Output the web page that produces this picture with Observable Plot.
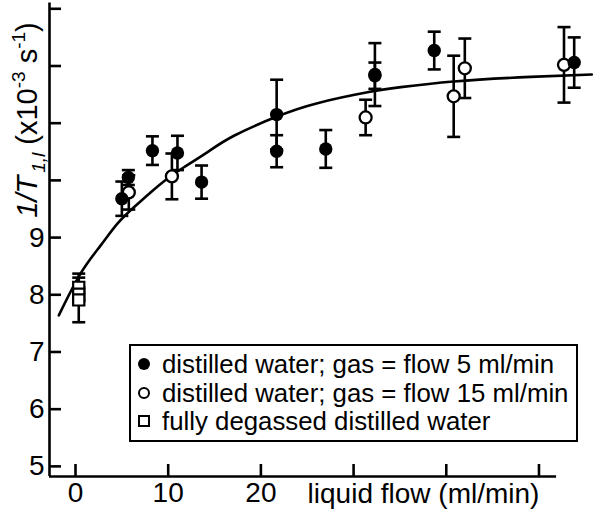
<!DOCTYPE html>
<html>
<head>
<meta charset="utf-8">
<script src="https://cdn.jsdelivr.net/npm/d3@7"></script>
<script src="https://cdn.jsdelivr.net/npm/@observablehq/plot@0.6"></script>
<style>
  html, body { margin: 0; padding: 0; background: #fff; }
  #chart { position: relative; width: 600px; height: 517px; }
</style>
</head>
<body>
<div id="chart"></div>
<script>
// ---- data ----
// filled circles: distilled water; gas flow 5 ml/min
const flow5 = [5.0, 5.7, 8.3, 11.0, 13.6, 21.7, 21.7, 27.0, 32.3, 32.3, 38.7, 53.8];
const rate5 = [9.68, 10.05, 10.52, 10.48, 9.97, 11.15, 10.51, 10.55, 11.85, 11.83, 12.27, 12.06];
const err5  = [0.30, 0.13, 0.25, 0.30, 0.29, 0.61, 0.28, 0.33, 0.55, 0.23, 0.33, 0.44];
// open circles: distilled water; gas flow 15 ml/min
const flow15 = [5.75, 10.4, 31.3, 40.8, 42.0, 52.7];
const rate15 = [9.79, 10.07, 11.10, 11.47, 11.96, 12.02];
const err15  = [0.30, 0.40, 0.31, 0.71, 0.52, 0.66];
// open squares: fully degassed distilled water
const flowDeg = [0.35, 0.35, 0.35];
const rateDeg = [8.13, 8.01, 7.91];
const errDeg  = [0.24, 0.12, 0.39];
// fitted curve
const fitFlow = [-1.8, 0.54, 2.7, 4.5, 6.3, 8.1, 9.9, 11.7, 14.2, 17.1, 21.8, 26.1, 31.5, 35.1, 40.8, 49.1, 55.7];
const fitRate = [7.64, 8.37, 8.86, 9.24, 9.53, 9.79, 10.03, 10.23, 10.49, 10.78, 11.12, 11.35, 11.54, 11.63, 11.73, 11.81, 11.85];
// axes
const xTicks = [0, 10, 20, 30, 40, 50];
const xTickLabels = ["0", "10", "20", "", "", ""];
const yTicks = [5, 6, 7, 8, 9, 10, 11, 12, 13];
const yTickLabels = ["5", "6", "7", "8", "9", "", "", "", ""];
const xDomain = [-2.805, 56.53];
const yDomain = [4.823, 13.145];
const xAxisEnd = 51.9;
const yAxisTop = 13.1;
const xTitle = "liquid flow (ml/min)";
const legendLabels = [
  "distilled water; gas = flow 5 ml/min",
  "distilled water; gas = flow 15 ml/min",
  "fully degassed distilled water"
];

const mk = (xs, ys, es) => xs.map((x, i) => ({x, y: ys[i], e: es[i]}));
const s5 = mk(flow5, rate5, err5);
const s15 = mk(flow15, rate15, err15);
const sDeg = mk(flowDeg, rateDeg, errDeg);
const fit = fitFlow.map((x, i) => ({x, y: fitRate[i]}));
const allPts = [...sDeg, ...s5, ...s15];

const cap = { draw(ctx, size) { const r = Math.sqrt(size / Math.PI); ctx.moveTo(-r, 0); ctx.lineTo(r, 0); } };

const lw = 2.6;
const plot = Plot.plot({
  width: 600,
  height: 517,
  marginLeft: 49,
  marginRight: 1,
  marginTop: 0,
  marginBottom: 41,
  style: { fontFamily: "'Liberation Sans', Arial, sans-serif", fontSize: "28px", color: "#000", background: "#fff", overflow: "visible" },
  x: { domain: xDomain, axis: null },
  y: { domain: yDomain, axis: null },
  marks: [
    Plot.ruleX([xDomain[0]], { y1: yDomain[0], y2: yAxisTop, stroke: "#000", strokeWidth: lw }),
    Plot.ruleY([yDomain[0]], { x1: xDomain[0], x2: xAxisEnd, stroke: "#000", strokeWidth: lw }),
    Plot.axisY({ ticks: yTicks, tickSize: -12, tickPadding: 17, strokeWidth: lw, label: null,
      tickFormat: d => yTickLabels[yTicks.indexOf(d)] }),
    Plot.axisX({ ticks: xTicks, tickSize: -12, tickPadding: 18, strokeWidth: lw, label: null,
      tickFormat: d => xTickLabels[xTicks.indexOf(d)] }),
    Plot.text([xTitle], { frameAnchor: "bottom", dx: 99, dy: 7, lineAnchor: "top", fontSize: 28 }),
    Plot.line(fit, { x: "x", y: "y", curve: "natural", stroke: "#000", strokeWidth: lw }),
    Plot.ruleX(allPts, { x: "x", y1: d => d.y - d.e, y2: d => d.y + d.e, stroke: "#000", strokeWidth: lw }),
    Plot.dot(allPts, { x: "x", y: d => d.y + d.e, symbol: cap, r: 6.5, stroke: "#000", strokeWidth: lw }),
    Plot.dot(allPts, { x: "x", y: d => d.y - d.e, symbol: cap, r: 6.5, stroke: "#000", strokeWidth: lw }),
    Plot.dot(sDeg, { x: "x", y: "y", symbol: "square", r: 6.3, fill: "#fff", stroke: "#000", strokeWidth: 2.2 }),
    Plot.dot(s15, { x: "x", y: "y", r: 6, fill: "#fff", stroke: "#000", strokeWidth: 2.3 }),
    Plot.dot(s5, { x: "x", y: "y", r: 6.7, fill: "#000", stroke: "none" })
  ]
});
document.getElementById("chart").appendChild(plot);

// y-axis title with italics, subscript and superscripts
const svg = d3.select(plot);
const lab = svg.append("text")
  .attr("transform", "translate(37,120) rotate(-90)")
  .attr("text-anchor", "middle")
  .attr("font-family", "'Liberation Sans', Arial, sans-serif")
  .attr("font-size", 29)
  .attr("fill", "#000");
lab.append("tspan").attr("font-style", "italic").text("1/T");
lab.append("tspan").attr("font-style", "italic").attr("font-size", 19).attr("dx", 3).attr("dy", 8).text("1,l");
lab.append("tspan").attr("dy", -8).text(" (x10");
lab.append("tspan").attr("font-size", 19).attr("dy", -12).text("-3");
lab.append("tspan").attr("dy", 12).text(" s");
lab.append("tspan").attr("font-size", 19).attr("dy", -12).text("-1");
lab.append("tspan").attr("dy", 12).text(")");

// legend box inside the plot area
const lg = svg.append("g")
  .attr("font-family", "'Liberation Sans', Arial, sans-serif")
  .attr("font-size", 25.8)
  .attr("text-anchor", "start");
lg.append("rect").attr("x", 130).attr("y", 345).attr("width", 447).attr("height", 96)
  .attr("fill", "#fff").attr("stroke", "#000").attr("stroke-width", 2);
const rowY = [364, 393, 421];
lg.append("circle").attr("cx", 144).attr("cy", rowY[0]).attr("r", 6).attr("fill", "#000");
lg.append("circle").attr("cx", 144).attr("cy", rowY[1]).attr("r", 5).attr("fill", "#fff").attr("stroke", "#000").attr("stroke-width", 2);
lg.append("rect").attr("x", 139).attr("y", rowY[2] - 5).attr("width", 10).attr("height", 10).attr("fill", "#fff").attr("stroke", "#000").attr("stroke-width", 2);
legendLabels.forEach((t, i) => {
  lg.append("text").attr("x", 162).attr("y", rowY[i] + 9).attr("text-anchor", "start").text(t);
});
</script>
</body>
</html>
